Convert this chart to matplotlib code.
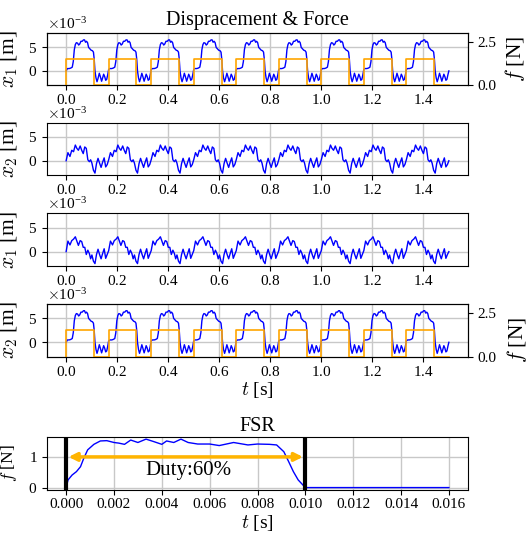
import numpy as np
import matplotlib
matplotlib.use("Agg")
import matplotlib.pyplot as plt

plt.rcParams['font.family'] = 'serif'
plt.rcParams['font.serif'] = ['Liberation Serif', 'DejaVu Serif']
plt.rcParams['mathtext.fontset'] = 'cm'
plt.rcParams['axes.unicode_minus'] = True
plt.rcParams['axes.formatter.use_mathtext'] = True

# ---------------- data ----------------
period = 1.0 / 6.0
n_cycles = 9
# panel 1 / 4: large displacement, one cycle (time within cycle [s], value [1e-3 m])
cyc_big_t = [0.000, 0.005, 0.012, 0.018, 0.024, 0.028, 0.032, 0.036, 0.040, 0.045, 0.049,
             0.053, 0.058, 0.063, 0.068, 0.072, 0.076, 0.080, 0.084, 0.088, 0.093, 0.098,
             0.103, 0.107, 0.110, 0.113, 0.117, 0.121, 0.125, 0.130, 0.134, 0.139, 0.143,
             0.147, 0.151, 0.155, 0.159, 0.163]
cyc_big_v = [0.3, 0.5, 0.5, 0.6, 0.8, 2.0, 4.5, 5.6, 6.0, 5.9, 5.5,
             5.7, 6.3, 6.3, 6.6, 6.6, 6.1, 6.3, 6.0, 5.0, 4.7, 4.4,
             4.3, 4.0, 2.5, 0.0, -1.5, -2.3, -1.6, -0.5, -1.2, -2.2, -1.5,
             -0.7, -1.2, -2.0, -1.8, -0.8]
# panel 2: x2 small
cyc_s1_t = [0.000, 0.007, 0.015, 0.022, 0.029, 0.036, 0.042, 0.048, 0.055, 0.061, 0.067,
            0.073, 0.079, 0.085, 0.091, 0.096, 0.101, 0.107, 0.113, 0.119, 0.125, 0.131,
            0.137, 0.143, 0.149, 0.155, 0.161]
cyc_s1_v = [0.2, 1.7, 0.9, 2.2, 1.9, 3.3, 2.6, 2.2, 3.1, 2.2, 1.5,
            2.9, 2.6, 0.2, -0.2, 0.2, -0.5, -2.0, -2.6, -0.6, 0.5, -0.5,
            -1.4, -0.3, 0.6, -1.3, -0.8]
# panel 3: x1 small
cyc_s2_t = [0.000, 0.007, 0.015, 0.022, 0.029, 0.036, 0.042, 0.048, 0.055, 0.061, 0.067,
            0.073, 0.079, 0.085, 0.091, 0.096, 0.101, 0.107, 0.113, 0.119, 0.125, 0.131,
            0.137, 0.143, 0.149, 0.155, 0.161]
cyc_s2_v = [0.2, 2.2, 1.4, 2.3, 2.6, 3.1, 2.2, 1.3, 2.3, 2.1, 0.9,
            0.9, -0.6, 0.3, -0.4, -1.5, -0.7, -2.0, -2.5, -0.6, 0.5, -0.6,
            -1.5, -0.4, 0.6, -1.4, -0.6]
force_level = 1.5
force_on = 0.109   # on-time within each cycle [s]

# FSR single pulse
fsr_t = [0.0, 0.00008, 0.00025, 0.00043, 0.0006, 0.00074, 0.0009, 0.00116, 0.00143, 0.0017,
         0.002, 0.0022, 0.00244, 0.0027, 0.003, 0.00334, 0.00366, 0.004, 0.0042, 0.0045,
         0.0048, 0.0051, 0.0055, 0.006, 0.0064, 0.007, 0.0076, 0.008, 0.0085, 0.0088,
         0.0091, 0.0093, 0.0095, 0.0097, 0.010, 0.016]
fsr_f = [0.0, 0.25, 0.41, 0.52, 0.68, 0.96, 1.23, 1.41, 1.52, 1.53,
         1.47, 1.45, 1.41, 1.55, 1.47, 1.58, 1.5, 1.41, 1.52, 1.47,
         1.58, 1.47, 1.42, 1.42, 1.37, 1.47, 1.39, 1.42, 1.41, 1.39,
         1.17, 0.85, 0.52, 0.25, 0.0, 0.0]

xticks = [0.0, 0.2, 0.4, 0.6, 0.8, 1.0, 1.2, 1.4]
fsr_xticks = [0.000, 0.002, 0.004, 0.006, 0.008, 0.010, 0.012, 0.014, 0.016]


def build(ct, cv):
    ct = np.asarray(ct); cv = np.asarray(cv) * 1e-3
    t = np.concatenate([ct + k * period for k in range(n_cycles)] + [[n_cycles * period]])
    v = np.concatenate([cv for _ in range(n_cycles)] + [[0.0]])
    v[0] = 0.0
    return t, v


def build_force():
    tt, ff = [], []
    for k in range(n_cycles):
        s = k * period
        tt += [s, s, s + force_on, s + force_on]
        ff += [0.0, force_level, force_level, 0.0]
    tt.append(n_cycles * period); ff.append(0.0)
    return np.array(tt), np.array(ff)


W, H = 528, 535
fig = plt.figure(figsize=(W / 100, H / 100), dpi=100)

def rect(top, bottom):
    return [47 / W, 1 - bottom / H, 421 / W, (bottom - top) / H]

TICK = 11
LAB = 14
YLAB = 15.5
blue = '#0000ff'
orange = '#ffa500'
gridc = '#c8c8c8'
YLX = -0.064

panels = [
    (rect(33.3, 85), cyc_big_t, cyc_big_v, r'$x_1$ [m]', True),
    (rect(122.7, 175), cyc_s1_t, cyc_s1_v, r'$x_2$ [m]', False),
    (rect(213.3, 266), cyc_s2_t, cyc_s2_v, r'$x_1$ [m]', False),
    (rect(304, 356.7), cyc_big_t, cyc_big_v, r'$x_2$ [m]', True),
]
tf, ff = build_force()
for i, (r, ct, cv, lab, force) in enumerate(panels):
    ax = fig.add_axes(r)
    t, v = build(ct, cv)
    ax.plot(t, v, color=blue, lw=1.0)
    ax.set_ylim(-3e-3, 8e-3)
    ax.set_yticks([0, 5e-3])
    ax.ticklabel_format(axis='y', style='sci', scilimits=(0, 0))
    ax.set_xticks(xticks)
    ax.set_xlim(-0.075, 1.575)
    ax.grid(True, color=gridc, lw=1.0)
    ax.tick_params(labelsize=TICK)
    ax.tick_params(axis='x', pad=2.5)
    ax.yaxis.get_offset_text().set_fontsize(TICK)
    ax.set_ylabel(lab, fontsize=YLAB)
    ax.yaxis.set_label_coords(YLX, 0.5)
    if i == 0:
        ax.set_title('Dispracement & Force', fontsize=14.5)
    if i == 3:
        ax.set_xlabel(r'$t$ [s]', fontsize=LAB, labelpad=1)
    if force:
        ax2 = ax.twinx()
        ax2.plot(tf, ff, color=orange, lw=1.2)
        ax2.set_ylim(0, 3)
        ax2.set_yticks([0.0, 2.5])
        ax2.set_yticklabels(['0.0', '2.5'])
        ax2.tick_params(labelsize=TICK)
        ax2.set_ylabel(r'$f$ [N]', fontsize=YLAB)
        if i == 0:
            ax2.yaxis.set_label_coords(1.082, 0.5)
        else:
            ax2.yaxis.set_label_coords(1.088, 0.32)

ax5 = fig.add_axes(rect(436.7, 490))
ax5.plot(fsr_t, fsr_f, color=blue, lw=1.0)
ax5.axvline(0.0, color='black', lw=3)
ax5.axvline(0.010, color='black', lw=3)
ax5.annotate('', xy=(0.0099, 1.0), xytext=(0.0001, 1.0),
             arrowprops=dict(arrowstyle='<|-|>', color='#ffb400', lw=2.5,
                             mutation_scale=12, shrinkA=0, shrinkB=0))
ax5.text(0.00513, 0.55, 'Duty:60%', fontsize=15, ha='center', va='center')
ax5.set_xticks(fsr_xticks)
ax5.set_xticklabels(['%.3f' % x for x in fsr_xticks])
ax5.set_yticks([0, 1])
ax5.grid(True, color=gridc, lw=1.0)
ax5.tick_params(labelsize=TICK)
ax5.tick_params(axis='x', pad=2.5)
ax5.set_title('FSR', fontsize=14.5, pad=4)
ax5.set_xlabel(r'$t$ [s]', fontsize=LAB, labelpad=1)
ax5.set_ylabel(r'$f$ [N]', fontsize=12.5)
ax5.yaxis.set_label_coords(-0.066, 0.5)

fig.savefig('out.png', dpi=100)
